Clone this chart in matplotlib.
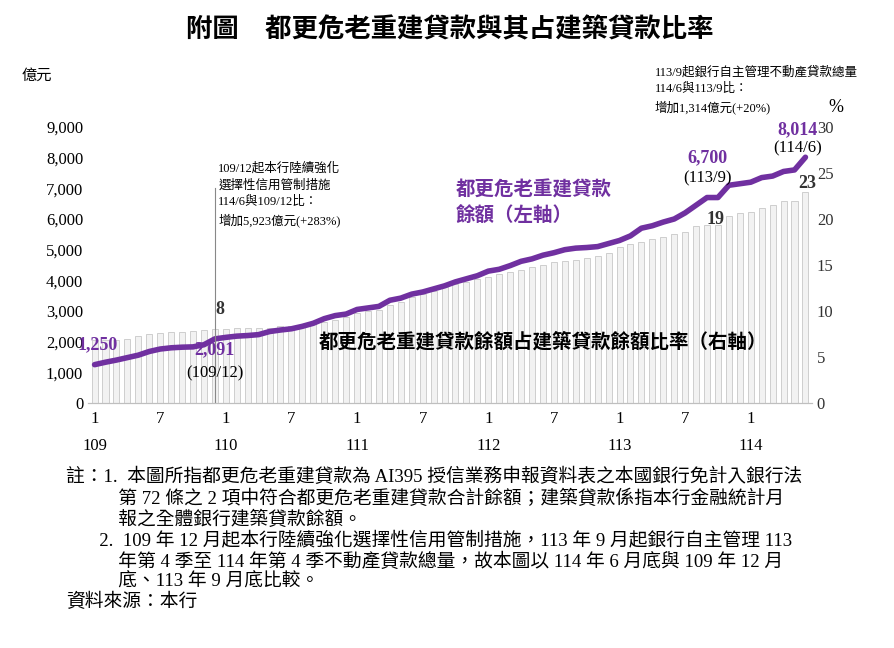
import matplotlib.pyplot as plt
import numpy as np

plt.rcParams['font.family'] = ['Liberation Serif', 'Noto Sans CJK TC']

# monthly data 109/1 - 114/6
loans = [1250, 1330, 1400, 1480, 1560, 1680, 1760, 1800, 1820, 1830, 1900, 2091,
         2140, 2180, 2200, 2230, 2330, 2380, 2420, 2500, 2600, 2750, 2850, 2900,
         3050, 3100, 3150, 3350, 3420, 3550, 3620, 3720, 3820, 3950, 4050, 4150,
         4300, 4360, 4480, 4620, 4700, 4820, 4900, 5000, 5050, 5070, 5100, 5200,
         5300, 5450, 5700, 5780, 5900, 6000, 6200, 6450, 6700, 6700, 7100, 7150,
         7200, 7350, 7400, 7550, 7600, 8014]
ratio = [6.8, 6.8, 6.8, 7.0, 7.3, 7.5, 7.6, 7.7, 7.7, 7.8, 7.9, 8.0,
         8.0, 8.1, 8.1, 8.2, 8.2, 8.4, 8.4, 8.5, 8.6, 8.8, 9.0, 9.3,
         9.8, 10.0, 10.1, 10.7, 11.0, 11.5, 11.8, 12.2, 12.6, 12.9, 13.2, 13.5,
         13.7, 14.0, 14.2, 14.5, 14.8, 15.0, 15.3, 15.4, 15.5, 15.8, 16.0, 16.3,
         17.0, 17.3, 17.5, 17.8, 18.0, 18.4, 18.6, 19.2, 19.4, 19.4, 20.3, 20.6,
         20.8, 21.2, 21.5, 22.0, 22.0, 22.9]
tick_pos = [0, 6, 12, 18, 24, 30, 36, 42, 48, 54, 60]
tick_lab = ['1\n109', '7', '1\n110', '7', '1\n111', '7', '1\n112', '7',
            '1\n113', '7', '1\n114']

purple = '#7030A0'
x = np.arange(len(loans))

fig = plt.figure(figsize=(8.94, 6.48), dpi=100)
ax = fig.add_axes([88/894, 1-403/648, 724/894, 276/648])
ax2 = ax.twinx()
ax.set_zorder(2)
ax.patch.set_visible(False)

ax2.bar(x, ratio, width=0.55, color='#F2F2F2', edgecolor='#C8C8C8', linewidth=0.6)
ax2.set_ylim(0, 30)
ax2.set_yticks(range(0, 31, 5))
ax2.tick_params(axis='y', length=0, labelsize=12, colors='#333333')

ax.plot(x, loans, color=purple, lw=4, solid_capstyle='round')
ax.set_ylim(0, 9000)
ax.set_xlim(-0.6, len(loans) - 0.4)
ax.set_yticks(range(0, 9001, 1000))
ax.set_yticklabels([f'{v:,}' for v in range(0, 9001, 1000)])
ax.tick_params(axis='y', length=0, labelsize=12)
ax.set_xticks(tick_pos)
ax.set_xticklabels(tick_lab, fontsize=12, linespacing=1.9)
ax.tick_params(axis='x', length=0, pad=6)
for a in (ax, ax2):
    for s in ['top', 'right', 'left']:
        a.spines[s].set_visible(False)
    a.spines['bottom'].set_color('#BFBFBF')

# annotations
ax.axvline(11, ymin=0, ymax=0.78, color='#888888', lw=0.8)
ax.text(11.3, 7850, '109/12起本行陸續強化\n選擇性信用管制措施\n114/6與109/12比：\n增加5,923億元(+283%)',
        fontsize=9, va='top', linespacing=1.5)
ax.text(-1.6, loans[0] + 500, f'{loans[0]:,}', color=purple, fontsize=13, fontweight='bold', ha='left')
ax.text(11, loans[11] - 500, f'{loans[11]:,}', color=purple, fontsize=13, fontweight='bold', ha='center')
ax.text(11, loans[11] - 1250, '(109/12)', fontsize=12, ha='center')
ax.text(56, loans[56] + 1150, f'{loans[56]:,}', color=purple, fontsize=13, fontweight='bold', ha='center')
ax.text(56, loans[56] + 500, '(113/9)', fontsize=12, ha='center')
ax.text(64.3, loans[65] + 750, f'{loans[65]:,}', color=purple, fontsize=13, fontweight='bold', ha='center')
ax.text(64.3, loans[65] + 150, '(114/6)', fontsize=12, ha='center')
ax.text(11.5, 2900, '8', fontsize=13, fontweight='bold', color='#333333', ha='center')
ax.text(56.8, 5850, '19', fontsize=13, fontweight='bold', color='#333333', ha='center')
ax.text(65.2, 7020, '23', fontsize=13, fontweight='bold', color='#333333', ha='center')
ax.text(33, 5900, '都更危老重建貸款\n餘額（左軸）', color=purple, fontsize=14, fontweight='bold',
        linespacing=1.5)
ax.text(20.5, 1800, '都更危老重建貸款餘額占建築貸款餘額比率（右軸）', fontsize=14, fontweight='bold')

fig.text(22/894, 1-80/648, '億元', fontsize=11)
fig.text(828/894, 1-112/648, '%', fontsize=13)
fig.text(655/894, 1-66/648, '113/9起銀行自主管理不動產貸款總量\n114/6與113/9比：\n增加1,314億元(+20%)',
         fontsize=9, linespacing=1.5, va='top')
fig.text(450/894, 1-30/648, '附圖　都更危老重建貸款與其占建築貸款比率', fontsize=19,
         fontweight='bold', ha='center', va='center')

notes = ('註：1.  本圖所指都更危老重建貸款為 AI395 授信業務申報資料表之本國銀行免計入銀行法\n'
         '           第 72 條之 2 項中符合都更危老重建貸款合計餘額；建築貸款係指本行金融統計月\n'
         '           報之全體銀行建築貸款餘額。\n'
         '       2.  109 年 12 月起本行陸續強化選擇性信用管制措施，113 年 9 月起銀行自主管理 113\n'
         '           年第 4 季至 114 年第 4 季不動產貸款總量，故本圖以 114 年 6 月底與 109 年 12 月\n'
         '           底、113 年 9 月底比較。\n'
         '資料來源：本行')
fig.text(66/894, 1-468/648, notes, fontsize=13.5, va='top', linespacing=1.2)

fig.savefig('out.png', dpi=100)
